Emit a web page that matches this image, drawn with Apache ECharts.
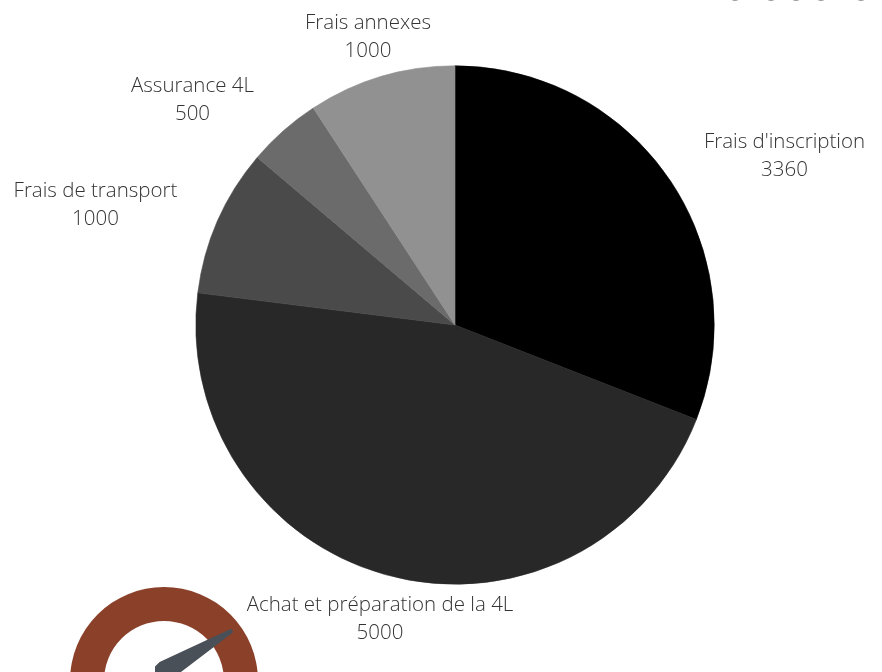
<!DOCTYPE html>
<html><head><meta charset="utf-8">
<script src="https://cdn.jsdelivr.net/npm/echarts@6/dist/echarts.min.js"></script>
<style>html,body{margin:0;padding:0;background:#fff}#c{width:882px;height:672px}</style>
</head><body><div id="c"></div>
<script>
const categories = ["Frais d'inscription", "Achat et préparation de la 4L", "Frais de transport", "Assurance 4L", "Frais annexes"];
const values = [3360, 5000, 1000, 500, 1000];
const colors = ["#000000", "#282828", "#4a4a4a", "#6b6b6b", "#919191"];
const labelCentres = [[784.5, 156], [380, 619], [95.5, 205], [192.5, 100], [368, 37]];
const fontStack = '"Open Sans", "Noto Sans", sans-serif';

const chart = echarts.init(document.getElementById('c'), null, {renderer: 'canvas'});
chart.setOption({
  animation: false,
  backgroundColor: '#ffffff',
  series: [{
    type: 'pie',
    center: [455, 325],
    radius: [0, 259.2],
    startAngle: 90,
    clockwise: true,
    silent: true,
    data: categories.map((name, i) => ({name, value: values[i], itemStyle: {color: colors[i], borderColor: colors[i], borderWidth: 0.6}})),
    label: {
      show: true,
      position: 'outside',
      formatter: '{b}\n{c}',
      fontFamily: fontStack,
      fontWeight: 300,
      fontSize: 20.5,
      lineHeight: 28,
      color: '#333333',
      align: 'center',
      verticalAlign: 'middle',
      overflow: 'none',
      width: 400
    },
    labelLine: {show: false},
    labelLayout: p => ({x: labelCentres[p.dataIndex][0], y: labelCentres[p.dataIndex][1], align: 'center', verticalAlign: 'middle', hideOverlap: false})
  }],
  graphic: [
    {type: 'ring', silent: true, shape: {cx: 164, cy: 681, r: 94, r0: 60}, style: {fill: '#8a4029'}},
    {type: 'polygon', silent: true, shape: {points: [[231, 630], [232, 632], [178, 673], [156, 673], [156, 667], [160, 663]]}, style: {fill: '#4a5058', stroke: '#4a5058', lineWidth: 2, lineJoin: 'round'}},
    {type: 'ellipse', silent: true, shape: {cx: 735, cy: -5, rx: 6, ry: 6}, style: {fill: '#9a9a9a'}},
    {type: 'ellipse', silent: true, shape: {cx: 771, cy: -5, rx: 6, ry: 6}, style: {fill: '#9a9a9a'}},
    {type: 'ellipse', silent: true, shape: {cx: 796, cy: -5, rx: 6, ry: 6}, style: {fill: '#9a9a9a'}},
    {type: 'ellipse', silent: true, shape: {cx: 821, cy: -5, rx: 6, ry: 6}, style: {fill: '#9a9a9a'}},
    {type: 'ellipse', silent: true, shape: {cx: 861, cy: -5, rx: 6, ry: 6}, style: {fill: '#9a9a9a'}}
  ]
});
</script></body></html>
